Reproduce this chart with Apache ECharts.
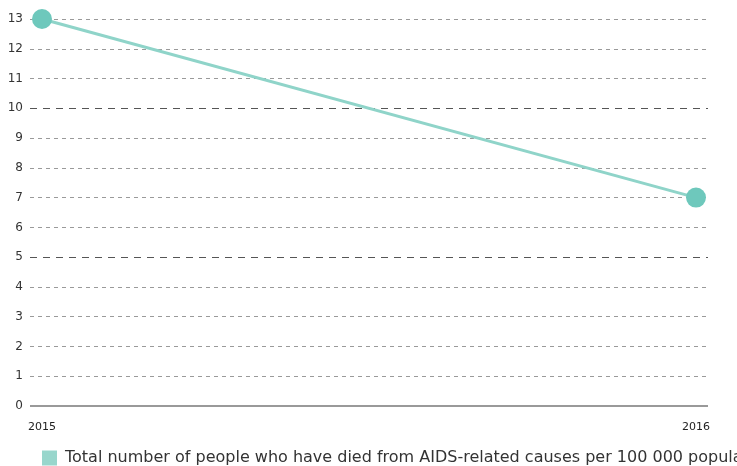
<!DOCTYPE html>
<html><head><meta charset="utf-8">
<script src="https://cdn.jsdelivr.net/npm/echarts@6/dist/echarts.min.js"></script>
<style>html,body{margin:0;padding:0;background:#fff}#c{width:737px;height:466px}</style>
</head><body><div id="c"></div>
<script>
const years = [2015, 2016];
const values = [13, 7];
const seriesName = 'Total number of people who have died from AIDS-related causes per 100 000 population';
const yTicks = [0,1,2,3,4,5,6,7,8,9,10,11,12,13];
const majorLines = [5, 10];

const FONT = '"DejaVu Sans", sans-serif';
const chart = echarts.init(document.getElementById('c'));
const pad = 12/654;
const gridLines = yTicks.filter(v => v > 0).map(v => majorLines.includes(v)
  ? {yAxis: v, lineStyle: {color: '#555', type: [7, 6], width: 1}}
  : {yAxis: v, lineStyle: {color: '#9a9a9a', type: [4, 4], width: 1}});
gridLines.push({yAxis: 0, lineStyle: {color: '#777', type: 'solid', width: 1.5}});

chart.setOption({
  animation: false,
  textStyle: {fontFamily: FONT},
  grid: {left: 30, right: 29, top: 19, bottom: 60, containLabel: false},
  xAxis: {
    type: 'value', min: years[0] - pad, max: years[1] + pad,
    axisLine: {show: false}, axisTick: {show: false}, splitLine: {show: false},
    axisLabel: {customValues: years, color: '#222', fontSize: 11, fontWeight: 'normal', fontFamily: FONT, margin: 16, formatter: v => String(Math.round(v))}
  },
  yAxis: {
    type: 'value', min: 0, max: 13, interval: 1,
    axisLine: {show: false}, axisTick: {show: false},
    axisLabel: {color: '#333', fontSize: 12, fontFamily: FONT, margin: 7},
    splitLine: {show: false}
  },
  legend: {
    left: 42, top: 450, padding: 0, itemWidth: 15, itemHeight: 15, itemGap: 7,
    textStyle: {color: '#333', fontSize: 16, fontFamily: FONT, padding: [0, 0, 0, 3]},
    data: [{name: seriesName, icon: 'rect', itemStyle: {color: '#98d6cc'}}]
  },
  series: [{
    name: seriesName, type: 'line',
    data: years.map((y, i) => [y, values[i]]),
    symbol: 'circle', symbolSize: 20,
    lineStyle: {color: '#8fd4c9', width: 3},
    itemStyle: {color: '#6ec8bc'},
    z: 5,
    markLine: {
      silent: true, symbol: 'none', label: {show: false}, z: 1,
      data: gridLines
    }
  }]
});
</script></body></html>
